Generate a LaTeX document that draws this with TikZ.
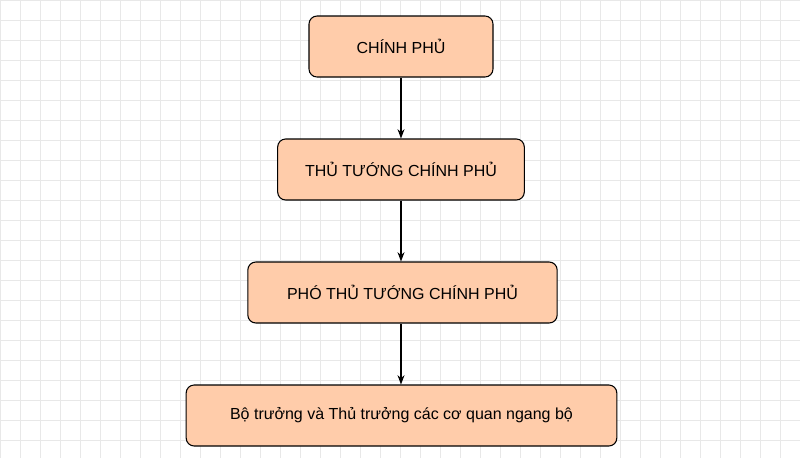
\documentclass[tikz,border=0pt]{standalone}
\usepackage{fontspec}
\setmainfont{Liberation Sans}
\usetikzlibrary{positioning,arrows.meta}
\definecolor{peach}{RGB}{255,204,170}
\definecolor{gridgray}{RGB}{232,232,232}
\tikzset{
  box/.style={draw=black,thick,fill=peach,rounded corners=6pt,minimum height=45.75pt,inner sep=0pt,font=\fontsize{12}{14}\selectfont},
  flow/.style={-{Stealth[length=7pt]},thick}
}
\begin{document}
\begin{tikzpicture}[x=0.75pt,y=-0.75pt]
% background grid
\useasboundingbox (0,0) rectangle (800,458);
\foreach \x in {0,20,...,800}{
\draw[gridgray,line width=0.5pt] (\x,0) -- (\x,458);
}
\foreach \y in {0,20,...,440}{
\draw[gridgray,line width=0.5pt] (0,\y) -- (800,\y);
}
% boxes
\node[box,minimum width=138pt] (cp) at (401,46.5) {CHÍNH PHỦ};
\node[box,minimum width=185pt] (ttg) at (401,169.5) {THỦ TƯỚNG CHÍNH PHỦ};
\node[box,minimum width=232pt] (ptt) at (402.5,292.5) {PHÓ THỦ TƯỚNG CHÍNH PHỦ};
\node[box,minimum width=323pt] (bt) at (401.5,415.5) {Bộ trưởng và Thủ trưởng các cơ quan ngang bộ};
% arrows
\draw[flow] (cp) -- (ttg);
\draw[flow] (ttg) -- (ptt.north -| ttg);
\draw[flow] (ptt.south -| ttg) -- (bt.north -| ttg);
\end{tikzpicture}
\end{document}
